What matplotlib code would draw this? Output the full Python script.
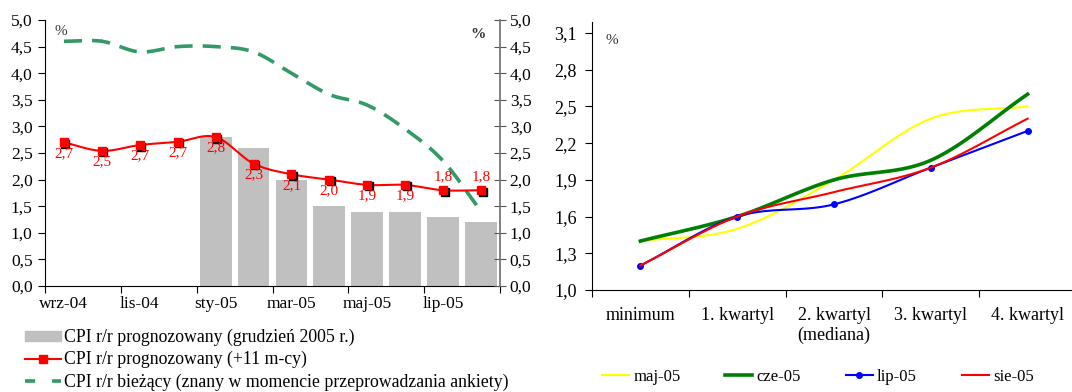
import numpy as np
import matplotlib
matplotlib.use("Agg")
import matplotlib.pyplot as plt
import matplotlib.transforms as mtransforms
from matplotlib.lines import Line2D
from matplotlib.patches import Patch

plt.rcParams['font.family'] = ['Liberation Serif', 'DejaVu Serif']
plt.rcParams['font.size'] = 12.5

# left chart data
months = ['wrz-04', 'paź-04', 'lis-04', 'gru-04', 'sty-05', 'lut-05',
          'mar-05', 'kwi-05', 'maj-05', 'cze-05', 'lip-05', 'sie-05']
cpi_dec = [None, None, None, None, 2.8, 2.6, 2.0, 1.5, 1.4, 1.4, 1.3, 1.2]
cpi_11m = [2.7, 2.54, 2.65, 2.71, 2.8, 2.3, 2.1, 2.0, 1.9, 1.9, 1.8, 1.8]
cpi_11m_lbl = ['2,7', '2,5', '2,7', '2,7', '2,8', '2,3', '2,1', '2,0',
               '1,9', '1,9', '1,8', '1,8']
cpi_now = [4.6, 4.6, 4.4, 4.5, 4.5, 4.4, 4.0, 3.6, 3.4, 2.95, 2.35, 1.4]

# right chart data
quart = ['minimum', '1. kwartyl', '2. kwartyl\n(mediana)', '3. kwartyl',
         '4. kwartyl']
maj05 = [1.4, 1.5, 1.9, 2.4, 2.5]
cze05 = [1.4, 1.6, 1.9, 2.06, 2.6]
lip05 = [1.2, 1.6, 1.7, 2.0, 2.3]
sie05 = [1.2, 1.6, 1.8, 2.0, 2.4]


def smooth(x, y, n=24):
    # catmull-rom curve through the points (like excel's smoothed line)
    x = np.asarray(x, float)
    y = np.asarray(y, float)
    px = np.concatenate([[2 * x[0] - x[1]], x, [2 * x[-1] - x[-2]]])
    py = np.concatenate([[2 * y[0] - y[1]], y, [2 * y[-1] - y[-2]]])
    xs, ys = [], []
    t = np.linspace(0, 1, n)
    for i in range(1, len(px) - 2):
        for arr, out in ((px, xs), (py, ys)):
            p0, p1, p2, p3 = arr[i - 1], arr[i], arr[i + 1], arr[i + 2]
            seg = 0.5 * ((2 * p1) + (-p0 + p2) * t
                         + (2 * p0 - 5 * p1 + 4 * p2 - p3) * t ** 2
                         + (-p0 + 3 * p1 - 3 * p2 + p3) * t ** 3)
            out.extend(seg)
    return np.array(xs), np.array(ys)


def fmt(vals):
    return [f'{v:.1f}'.replace('.', ',') for v in vals]


fig = plt.figure(figsize=(10.72, 3.92), dpi=100)

# ---- left chart
ax = fig.add_axes([45 / 1072, 106 / 392, 455 / 1072, 266 / 392])
idx = np.arange(len(months))
bx = [i for i, v in enumerate(cpi_dec) if v is not None]
bv = [v for v in cpi_dec if v is not None]
ax.bar(bx, bv, width=0.84, color='#c0c0c0', zorder=1)

gx, gy = smooth(idx, cpi_now)
ax.plot(gx, gy, color='#339966', lw=2.6, dashes=(5, 2.8), zorder=2)

rx, ry = smooth(idx, cpi_11m)
ax.plot(rx, ry, color='red', lw=1.5, zorder=3)
shadow = mtransforms.offset_copy(ax.transData, fig=fig, x=1.5, y=-1.5,
                                 units='dots')
ax.plot(idx, cpi_11m, 's', color='black', ms=6.3, transform=shadow, zorder=4)
ax.plot(idx, cpi_11m, 's', color='red', ms=6.3, mec='red', zorder=5)
for i, (v, s) in enumerate(zip(cpi_11m, cpi_11m_lbl)):
    dy = 10 if i >= 10 else -8
    ax.annotate(s, (i, v), xytext=(0, dy), textcoords='offset points',
                ha='center', va='center', color='red', fontsize=11, zorder=6)

yt = np.arange(0, 5.01, 0.5)
ax.set_xlim(-0.5, len(months) - 0.5)
ax.set_ylim(0, 5)
ax.set_yticks(yt)
ax.set_yticklabels(fmt(yt))
ax.set_xticks(np.arange(-0.5, len(months), 2))
ax.set_xticklabels([])
ax.set_xticks(idx[::2], minor=True)
ax.set_xticklabels(months[::2], minor=True)
ax.tick_params(axis='x', which='major', length=5, direction='out')
ax.tick_params(axis='x', which='minor', length=0, pad=7)
ax.tick_params(axis='y', length=5, pad=4)
for s in ['top', 'right']:
    ax.spines[s].set_visible(False)
ax.text(0.035, 0.98, '%', transform=ax.transAxes, fontsize=11, va='top',
        ha='center', color='#333333')

ax2 = ax.twinx()
ax2.set_ylim(0, 5)
ax2.set_yticks(yt)
ax2.set_yticklabels(fmt(yt))
ax2.tick_params(axis='y', length=8, direction='inout', pad=3, color='#555555')
for s in ['top', 'left', 'bottom']:
    ax2.spines[s].set_visible(False)
ax2.spines['right'].set_color('#777777')
ax2.spines['right'].set_linewidth(1.3)
ax2.text(0.952, 0.97, '%', transform=ax.transAxes, fontsize=11, va='top',
         ha='center', fontweight='bold', color='#333333')

handles = [Patch(color='#c0c0c0'),
           Line2D([], [], color='red', marker='s', ms=6, lw=1.5),
           Line2D([], [], color='#339966', lw=2.6, dashes=(2.8, 4.7))]
labels = ['CPI r/r prognozowany (grudzień 2005 r.)',
          'CPI r/r prognozowany (+11 m-cy)',
          'CPI r/r bieżący (znany w momencie przeprowadzania ankiety)']
fig.legend(handles, labels, loc='upper left',
           bbox_to_anchor=(25 / 1072, 1 - 329 / 392),
           frameon=False, handlelength=2.05, handleheight=0.55,
           handletextpad=0.17, labelspacing=0.27, borderaxespad=0,
           borderpad=0, fontsize=12.8)

# ---- right chart
bx2 = fig.add_axes([592 / 1072, 102 / 392, 484 / 1072, 268 / 392])
qx = np.arange(len(quart))
x, y = smooth(qx, maj05)
bx2.plot(x, y, color='#ffff00', lw=1.5)
x, y = smooth(qx, cze05)
bx2.plot(x, y, color='#008000', lw=2.6)
x, y = smooth(qx, lip05)
bx2.plot(x, y, color='#0000ff', lw=1.5)
bx2.plot(qx, lip05, 'o', color='#0000ff', ms=4)
x, y = smooth(qx, sie05)
bx2.plot(x, y, color='red', lw=1.5)

qt = np.arange(1.0, 3.11, 0.3)
bx2.set_xlim(-0.5, len(quart) - 0.5)
bx2.set_ylim(1.0, 3.19)
bx2.set_yticks(qt)
bx2.set_yticklabels(fmt(qt))
bx2.set_xticks(np.arange(-0.5, len(quart), 1))
bx2.set_xticklabels([])
bx2.set_xticks(qx, minor=True)
bx2.set_xticklabels(quart, minor=True, fontsize=13)
bx2.tick_params(axis='x', which='major', length=5, direction='out')
bx2.tick_params(axis='x', which='minor', length=0, pad=12)
bx2.tick_params(axis='y', length=5, pad=6, labelsize=13)
for s in ['top', 'right']:
    bx2.spines[s].set_visible(False)
bx2.text(0.04, 0.955, '%', transform=bx2.transAxes, fontsize=11, va='top',
         ha='center', color='#333333')

rh = [Line2D([], [], color='#ffff00', lw=1.5),
      Line2D([], [], color='#008000', lw=2.6),
      Line2D([], [], color='#0000ff', lw=1.5, marker='o', ms=4),
      Line2D([], [], color='red', lw=1.5)]
fig.legend(rh, ['maj-05', 'cze-05', 'lip-05', 'sie-05'], loc='center left',
           bbox_to_anchor=(602 / 1072, 1 - 377 / 392), ncol=4, frameon=False,
           handlelength=1.62, handletextpad=0.25, columnspacing=2.7,
           borderaxespad=0, borderpad=0, fontsize=12)

fig.savefig('out.png', dpi=100)
